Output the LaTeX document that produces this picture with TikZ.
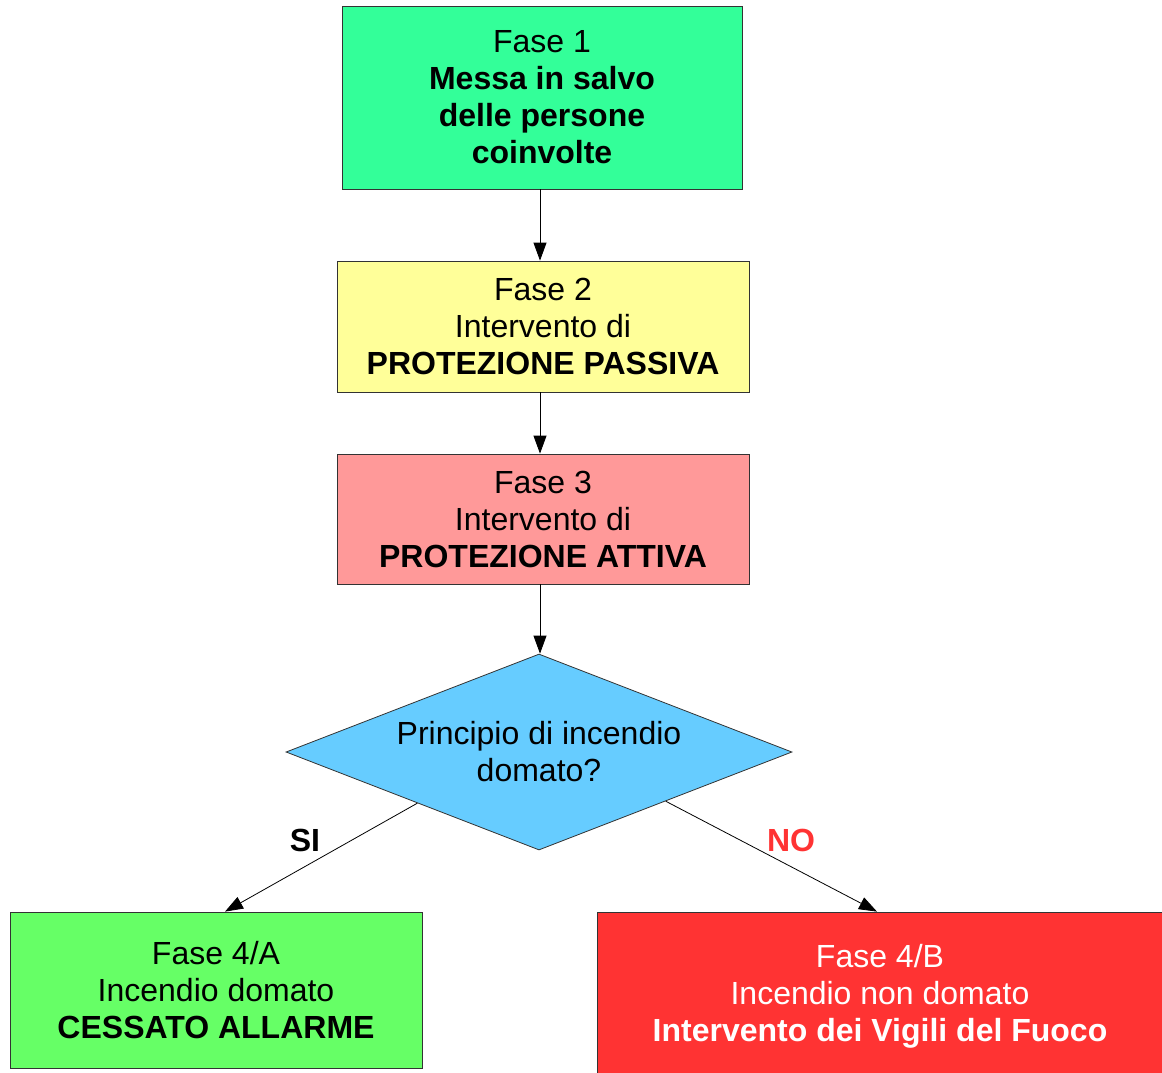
\documentclass[tikz,border=0pt]{standalone}
\usepackage{fontspec}
\setmainfont{Liberation Sans}
\usetikzlibrary{shapes.geometric,arrows.meta,calc}
\definecolor{verde}{HTML}{33FF99}
\definecolor{giallo}{HTML}{FFFF99}
\definecolor{rosa}{HTML}{FF9999}
\definecolor{azzurro}{HTML}{66CCFF}
\definecolor{verdechiaro}{HTML}{66FF66}
\definecolor{rosso}{HTML}{FF3333}
\begin{document}
\begin{tikzpicture}[x=1pt, y=-1pt,
    fase/.style={draw=black!80, line width=0.8pt, align=center, inner sep=0pt,
        font=\fontsize{32}{37}\selectfont},
    freccia/.style={-{Triangle[length=18pt,width=13pt]}, line width=0.8pt}]
    \useasboundingbox (0,0) rectangle (1162,1072);
    \begin{scope}
    \clip (0,0) rectangle (1162,1072);
    % Fasi
    \node[fase, fill=verde, minimum width=400pt, minimum height=183pt] (fase1) at (542,97.5)
        {Fase 1\\\textbf{Messa in salvo}\\\textbf{delle persone}\\\textbf{coinvolte}};
    \node[fase, fill=giallo, minimum width=412pt, minimum height=131pt] (fase2) at (543,326.5)
        {Fase 2\\Intervento di\\\textbf{PROTEZIONE PASSIVA}};
    \node[fase, fill=rosa, minimum width=412pt, minimum height=130pt] (fase3) at (543,519)
        {Fase 3\\Intervento di\\\textbf{PROTEZIONE ATTIVA}};
    % Decisione
    \node[fase, diamond, aspect=2.6, fill=azzurro, minimum width=506pt, minimum height=196pt] (domato) at (539,752)
        {Principio di incendio\\domato?};
    % Esiti
    \node[fase, fill=verdechiaro, minimum width=412pt, minimum height=156pt] (fase4a) at (216,990)
        {Fase 4/A\\Incendio domato\\\textbf{CESSATO ALLARME}};
    \node[fase, fill=rosso, text=white, minimum width=566pt, minimum height=168pt] (fase4b) at (880,996)
        {Fase 4/B\\Incendio non domato\\\textbf{Intervento dei Vigili del Fuoco}};
    \end{scope}
    % Collegamenti
    \draw[freccia] ([xshift=-2pt]fase1.south) -- ([xshift=-2pt]fase1.south |- fase2.north);
    \draw[freccia] ([xshift=-3pt]fase2.south) -- ([xshift=-3pt]fase2.south |- fase3.north);
    \draw[freccia] ([xshift=-3pt]fase3.south) -- ([xshift=-3pt]fase3.south |- domato.north);
    \draw[freccia] ($(domato.west)!0.52!(domato.south)$) -- ([xshift=9pt]fase4a.north);
    \draw[freccia] ($(domato.south)!0.5!(domato.east)$) -- ([xshift=-3pt]fase4b.north);
    % Etichette
    \node[font=\fontsize{32}{37}\selectfont\bfseries] (si) at (305,840) {SI};
    \node[font=\fontsize{32}{37}\selectfont\bfseries, text=rosso] (no) at (791,840) {NO};
\end{tikzpicture}
\end{document}
